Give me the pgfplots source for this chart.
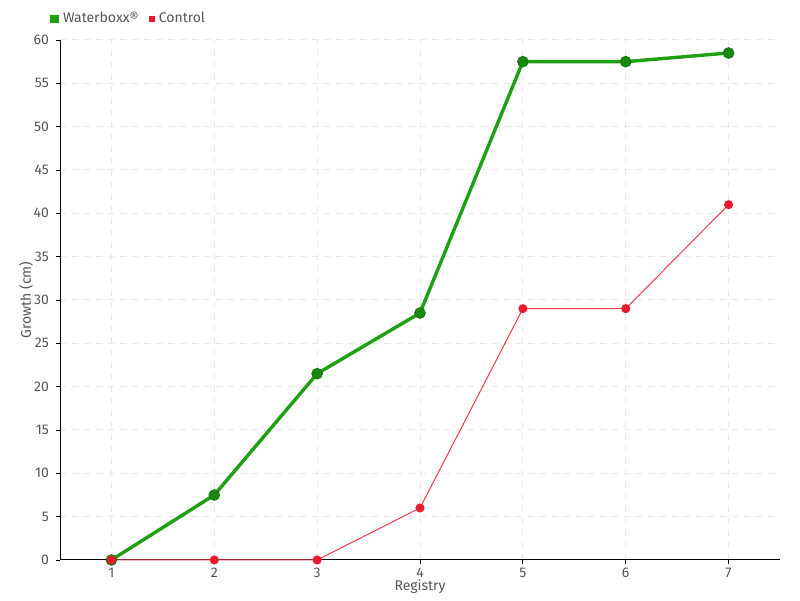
\documentclass[border=0pt]{standalone}
\usepackage{pgfplots}
\pgfplotsset{compat=1.18}
\usepackage{fontspec}
\setmainfont{Fira Sans}
\definecolor{wgreen}{HTML}{1FA012}
\definecolor{wgreendk}{HTML}{177A10}
\definecolor{cred}{HTML}{E81A2C}
\definecolor{txtgray}{HTML}{555555}
\begin{document}
\begin{tikzpicture}
\begin{axis}[
    name=ax,
    scale only axis, width=360pt, height=260pt,
    xmin=0.5, xmax=7.5, ymin=0, ymax=60,
    xtick={1,...,7}, ytick={0,5,...,60},
    axis lines=left, axis line style={-, black, line width=0.5pt},
    tick align=outside, major tick length=2pt,
    tick style={black, line width=0.4pt},
    xmajorgrids, ymajorgrids,
    grid style={dashed, gray!18, line width=0.5pt},
    font=\fontsize{7}{8}\selectfont,
    tick label style={text=txtgray},
    /pgf/number format/assume math mode=true,
    xticklabel style={yshift=1.5pt},
    xlabel={Registry}, ylabel={Growth (cm)},
    label style={text=txtgray},
    xlabel style={yshift=6pt},
    ylabel style={yshift=-6.5pt},
    legend style={draw=none, fill=none, at={(0,1)}, anchor=south west,
        xshift=-8pt, yshift=3pt, legend columns=-1,
        font=\fontsize{7}{8}\selectfont, text=txtgray,
        /tikz/every even column/.append style={column sep=3pt}},
    clip=false,
]
\addplot[wgreen, line width=1.7pt, mark=*, mark size=2.7pt,
    mark options={fill=wgreen!85!black, draw=wgreendk, line width=0.4pt},
    legend image code/.code={\fill[wgreen] (0pt,-1.3pt) rectangle (2.6pt,1.3pt);}]
    coordinates {(1,0)(2,7.5)(3,21.5)(4,28.5)(5,57.5)(6,57.5)(7,58.5)};
\addlegendentry{Waterboxx®}
\addplot[cred!85, line width=0.5pt, mark=*, mark size=2pt,
    mark options={fill=cred, draw=cred},
    legend image code/.code={\fill[cred] (0pt,-1.3pt) rectangle (2.6pt,1.3pt);}]
    coordinates {(1,0)(2,0)(3,0)(4,6)(5,29)(6,29)(7,41)};
\addlegendentry{Control}
\end{axis}
\useasboundingbox ([xshift=-30pt,yshift=-20pt]ax.south west) rectangle ([xshift=10pt,yshift=20pt]ax.north east);
\end{tikzpicture}
\end{document}
